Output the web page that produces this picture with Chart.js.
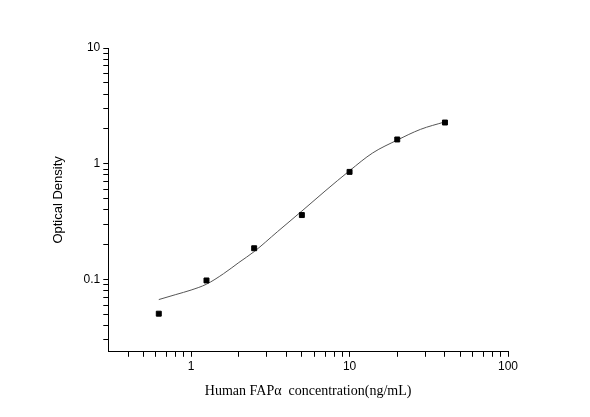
<!DOCTYPE html>
<html>
<head>
<meta charset="utf-8">
<script src="https://cdn.jsdelivr.net/npm/chart.js@4"></script>
<style>
  html, body { margin: 0; padding: 0; background: #fff; }
  #wrap { width: 590px; height: 417px; }
</style>
</head>
<body>
<div id="wrap"><canvas id="grafico"></canvas></div>
<script>
// Pontos medidos (padrões)
const concentracoes = [0.625, 1.25, 2.5, 5, 10, 20, 40];
const densidades = [0.0506, 0.098, 0.186, 0.36, 0.85, 1.62, 2.27];

// Curva ajustada
const curvaX = [0.625, 0.8, 1, 1.25, 1.6, 2, 2.5, 3.5, 5, 7, 10, 14, 20, 28, 40];
const curvaY = [0.067, 0.074, 0.081, 0.091, 0.112, 0.14, 0.174, 0.258, 0.39, 0.58, 0.87, 1.24, 1.6, 1.98, 2.3];

// Marcas dos eixos
const ticksX = [0.4, 0.5, 0.6, 0.7, 0.8, 0.9, 1, 2, 3, 4, 5, 6, 7, 8, 9, 10, 20, 30, 40, 50, 60, 70, 80, 90, 100];
const ticksY = [0.03, 0.04, 0.05, 0.06, 0.07, 0.08, 0.09, 0.1, 0.2, 0.3, 0.4, 0.5, 0.6, 0.7, 0.8, 0.9, 1, 2, 3, 4, 5, 6, 7, 8, 9, 10];
const rotulosX = [1, 10, 100];
const rotulosY = [0.1, 1, 10];

const eixoBase = {
    type: 'logarithmic',
    border: { color: '#000', width: 1 },
    grid: { drawOnChartArea: false, color: '#000', tickLength: 5 },
};

new Chart(document.getElementById('grafico'), {
    type: 'scatter',
    data: {
        datasets: [
            {
                data: concentracoes.map((x, i) => ({ x, y: densidades[i] })),
                pointStyle: 'rect',
                pointRadius: 3.5,
                backgroundColor: '#000',
                borderColor: '#000',
                showLine: false
            },
            {
                data: curvaX.map((x, i) => ({ x, y: curvaY[i] })),
                showLine: true,
                pointRadius: 0,
                borderColor: '#555',
                borderWidth: 1,
                cubicInterpolationMode: 'monotone'
            }
        ]
    },
    options: {
        responsive: true,
        maintainAspectRatio: false,
        animation: false,
        layout: { padding: { left: 47, right: 82, top: 48, bottom: 13 } },
        plugins: { legend: { display: false }, tooltip: { enabled: false } },
        scales: {
            x: {
                ...eixoBase,
                min: 0.316,
                max: 100,
                afterBuildTicks: s => { s.ticks = ticksX.map(v => ({ value: v })); },
                ticks: {
                    color: '#000', font: { family: 'Arial, Liberation Sans', size: 12 },
                    autoSkip: false, maxRotation: 0,
                    callback: v => rotulosX.includes(v) ? String(v) : ''
                },
                title: {
                    display: true, text: 'Human FAPα  concentration(ng/mL)', color: '#000',
                    font: { family: 'Liberation Serif', size: 14 }, padding: { top: 6 }
                }
            },
            y: {
                ...eixoBase,
                min: 0.0237,
                max: 10,
                afterBuildTicks: s => { s.ticks = ticksY.map(v => ({ value: v })); },
                ticks: {
                    color: '#000', font: { family: 'Arial, Liberation Sans', size: 12 },
                    autoSkip: false,
                    callback: v => rotulosY.includes(v) ? String(v) : ''
                },
                title: {
                    display: true, text: 'Optical Density', color: '#000',
                    font: { family: 'Arial, Liberation Sans', size: 13 }, padding: { bottom: 14 }
                }
            }
        }
    }
});
</script>
</body>
</html>
